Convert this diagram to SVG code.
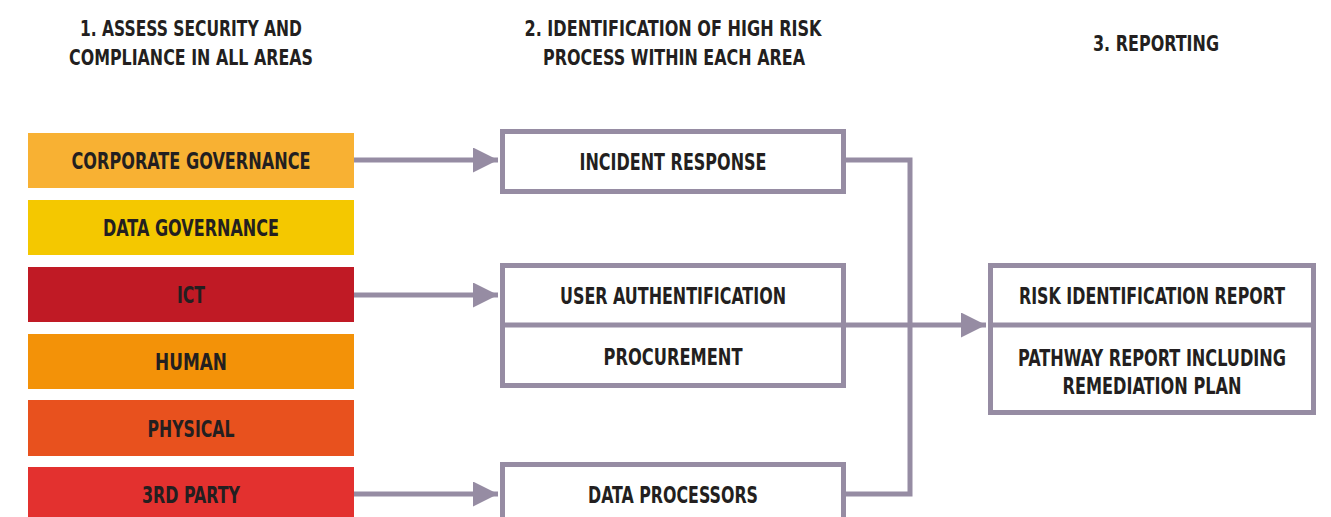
<svg xmlns="http://www.w3.org/2000/svg" width="1331" height="517" viewBox="0 0 1331 517">
<defs>
<style>
text{font-family:"DejaVu Sans Condensed","DejaVu Sans","Liberation Sans",sans-serif;font-stretch:condensed;font-weight:bold;fill:#231f20;text-anchor:middle}
.h{font-size:22px}
.l{font-size:23px}
.box{fill:#fff;stroke:#968ca3;stroke-width:5}
.c{fill:none;stroke:#968ca3;stroke-width:5}
</style>
<marker id="ah" viewBox="0 0 10 10" refX="10" refY="5" markerWidth="5.4" markerHeight="5" markerUnits="strokeWidth" orient="auto">
<path d="M0,0 L10,5 L0,10 z" fill="#968ca3"/>
</marker>
</defs>
<rect width="1331" height="517" fill="#fff"/>
<g id="headers">
<text class="h" x="191" y="36" textLength="222" lengthAdjust="spacingAndGlyphs">1. ASSESS SECURITY AND</text>
<text class="h" x="191" y="65" textLength="244" lengthAdjust="spacingAndGlyphs">COMPLIANCE IN ALL AREAS</text>
<text class="h" x="673" y="36" textLength="297" lengthAdjust="spacingAndGlyphs">2. IDENTIFICATION OF HIGH RISK</text>
<text class="h" x="674" y="65" textLength="262" lengthAdjust="spacingAndGlyphs">PROCESS WITHIN EACH AREA</text>
<text class="h" x="1156" y="51" textLength="126" lengthAdjust="spacingAndGlyphs">3. REPORTING</text>
</g>
<g id="connectors">
<path class="c" d="M354,160 H498" marker-end="url(#ah)"/>
<path class="c" d="M354,295 H498" marker-end="url(#ah)"/>
<path class="c" d="M354,494 H498" marker-end="url(#ah)"/>
<path class="c" d="M846,160 H910 V494 H846"/>
<path class="c" d="M846,325 H986" marker-end="url(#ah)"/>
</g>
<g id="corporate-governance"><rect x="28" y="133" width="326" height="55" fill="#f8b133"/><text class="l" x="191" y="169" textLength="239" lengthAdjust="spacingAndGlyphs">CORPORATE GOVERNANCE</text></g>
<g id="data-governance"><rect x="28" y="200" width="326" height="55" fill="#f4c800"/><text class="l" x="191" y="236" textLength="176" lengthAdjust="spacingAndGlyphs">DATA GOVERNANCE</text></g>
<g id="ict"><rect x="28" y="267" width="326" height="55" fill="#c01a25"/><text class="l" x="191" y="303" textLength="28" lengthAdjust="spacingAndGlyphs">ICT</text></g>
<g id="human"><rect x="28" y="334" width="326" height="55" fill="#f39208"/><text class="l" x="191" y="370" textLength="72" lengthAdjust="spacingAndGlyphs">HUMAN</text></g>
<g id="physical"><rect x="28" y="400" width="326" height="56" fill="#e8511e"/><text class="l" x="191" y="436.5" textLength="87" lengthAdjust="spacingAndGlyphs">PHYSICAL</text></g>
<g id="third-party"><rect x="28" y="467" width="326" height="60" fill="#e3312f"/><text class="l" x="191" y="503" textLength="98" lengthAdjust="spacingAndGlyphs">3RD PARTY</text></g>
<g id="incident-response"><rect class="box" x="502.5" y="131.5" width="341" height="60"/><text class="l" x="673" y="170" textLength="187" lengthAdjust="spacingAndGlyphs">INCIDENT RESPONSE</text></g>
<g id="user-auth-procurement"><rect class="box" x="502.5" y="265.5" width="341" height="120"/><line class="c" x1="502" y1="325" x2="846" y2="325"/><text class="l" x="673" y="304" textLength="226" lengthAdjust="spacingAndGlyphs">USER AUTHENTIFICATION</text><text class="l" x="673" y="365" textLength="139" lengthAdjust="spacingAndGlyphs">PROCUREMENT</text></g>
<g id="data-processors"><rect class="box" x="502.5" y="464.5" width="341" height="70"/><text class="l" x="673" y="503" textLength="170" lengthAdjust="spacingAndGlyphs">DATA PROCESSORS</text></g>
<g id="reports"><rect class="box" x="990.5" y="265.5" width="323" height="147"/><line class="c" x1="990" y1="325" x2="1316" y2="325"/><text class="l" x="1152" y="304" textLength="266" lengthAdjust="spacingAndGlyphs">RISK IDENTIFICATION REPORT</text><text class="l" x="1152" y="366" textLength="268" lengthAdjust="spacingAndGlyphs">PATHWAY REPORT INCLUDING</text><text class="l" x="1152" y="394" textLength="179" lengthAdjust="spacingAndGlyphs">REMEDIATION PLAN</text></g>
</svg>
